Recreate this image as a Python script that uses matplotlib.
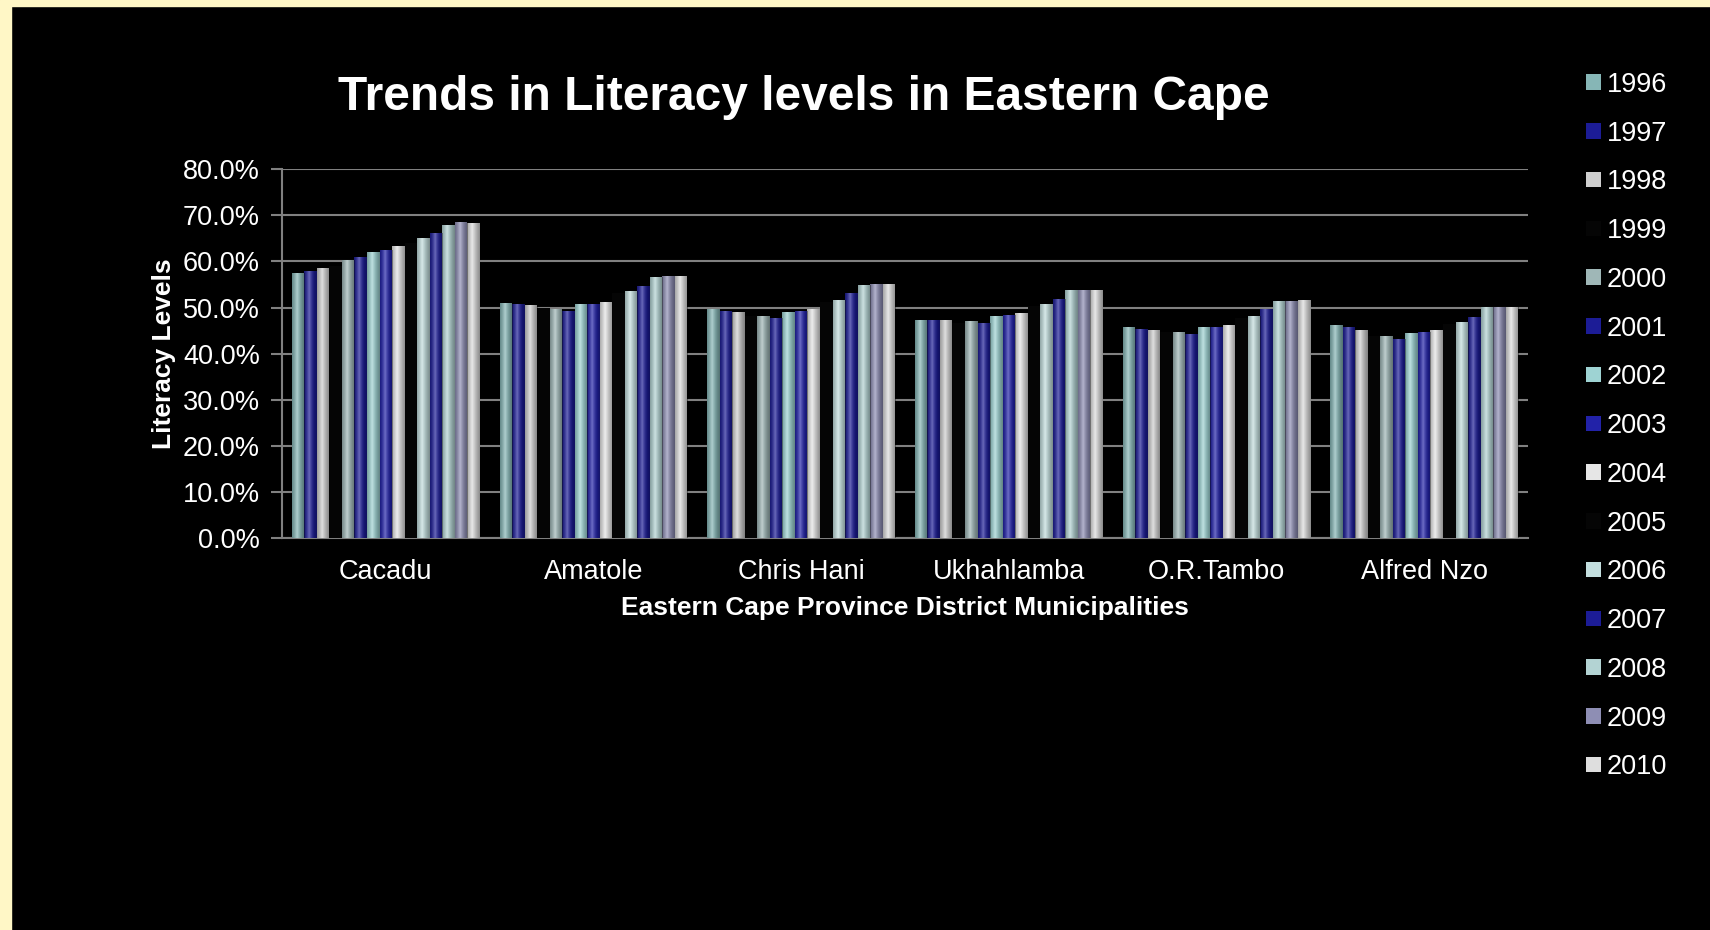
import matplotlib
matplotlib.use("Agg")
import matplotlib.pyplot as plt
import numpy as np
from matplotlib.patches import Rectangle, Patch
from matplotlib.ticker import FuncFormatter

plt.rcParams['font.family'] = ['Liberation Sans', 'DejaVu Sans']

# data (percent)
districts = ["Cacadu", "Amatole", "Chris Hani", "Ukhahlamba", "O.R.Tambo", "Alfred Nzo"]
years = ["1996", "1997", "1998", "1999", "2000", "2001", "2002", "2003",
         "2004", "2005", "2006", "2007", "2008", "2009", "2010"]

cacadu = [57.6, 58.0, 58.6, 59.1, 60.4, 60.9, 62.0, 62.5, 63.4, 64.1, 65.1, 66.2, 68.0, 68.5, 68.4]
amatole = [51.0, 50.8, 50.5, 49.8, 49.7, 49.3, 50.8, 50.8, 51.3, 53.1, 53.5, 54.6, 56.6, 56.8, 56.8]
chris_hani = [49.7, 49.3, 49.0, 48.1, 48.2, 47.8, 49.0, 49.3, 49.7, 51.2, 51.7, 53.1, 54.9, 55.1, 55.1]
ukhahlamba = [47.3, 47.3, 47.3, 46.7, 47.0, 46.7, 48.2, 48.3, 48.8, 50.2, 50.8, 51.8, 53.7, 53.7, 53.7]
or_tambo = [45.7, 45.4, 45.2, 44.6, 44.6, 44.3, 45.7, 45.7, 46.3, 47.8, 48.2, 49.6, 51.5, 51.5, 51.7]
alfred_nzo = [46.2, 45.7, 45.2, 43.9, 43.8, 43.2, 44.4, 44.6, 45.2, 46.5, 46.9, 48.0, 50.2, 50.2, 50.2]

colors = ["#86b6b6", "#1c1c96", "#cfcfcf", "#050505", "#9fb7b7", "#1c1c96",
          "#9ed3d3", "#2222a8", "#e6e6e6", "#050505", "#c3dede", "#1c1c96",
          "#b3d3d3", "#8e8eb4", "#dedede"]

values = np.array([cacadu, amatole, chris_hani, ukhahlamba, or_tambo, alfred_nzo])  # (district, year)

fig = plt.figure(figsize=(17.1, 9.3), dpi=100, facecolor="black")
# cream slide border
fig.patches.append(Rectangle((0, 0), 11 / 1710, 1, transform=fig.transFigure, color="#fff7c6", zorder=0))
fig.patches.append(Rectangle((0, 1 - 6 / 930), 1, 6 / 930, transform=fig.transFigure, color="#fff7c6", zorder=0))

ax = fig.add_axes([0.1649, 0.4215, 0.7287, 0.3965])
ax.set_facecolor("black")

n = len(years)
w = 0.905 / n
x = np.arange(len(districts))

# horizontal shading for a cylinder-ish look
grad = np.linspace(0, 1, 64)
shade = np.clip(1 - np.abs(grad - 0.4) * 2.2, 0, 1) ** 1.5
shade_img = np.zeros((1, 64, 4))
shade_img[..., :3] = 1
shade_img[..., 3] = shade * 0.35
dark_img = np.zeros((1, 64, 4))
dark_img[..., 3] = np.clip(np.abs(grad - 0.4) * 1.4, 0, 1) * 0.45

for j in range(n):
    xs = x - 0.905 / 2 + w * (j + 0.5)
    bars = ax.bar(xs, values[:, j], width=w, color=colors[j], zorder=3, linewidth=0, label=years[j])
    if colors[j] == "#050505":
        continue
    for b in bars:
        x0, h = b.get_x(), b.get_height()
        for img in (shade_img, dark_img):
            im = ax.imshow(img, extent=(x0, x0 + w, 0, h), aspect="auto", zorder=4, interpolation="bilinear")
            im.set_clip_path(b)

ax.set_xlim(-0.5, len(districts) - 0.5)
ax.set_ylim(0, 80)
ax.set_yticks(np.arange(0, 81, 10))
ax.yaxis.set_major_formatter(FuncFormatter(lambda v, p: f"{v:.1f}%"))
ax.grid(axis="y", color="#808080", linewidth=1.5, zorder=1)
ax.set_xticks(x)
ax.set_xticklabels(districts)
ax.tick_params(axis="x", length=0, colors="white", labelsize=19.5, pad=15)
ax.tick_params(axis="y", length=8, width=1.5, colors="#808080", labelcolor="white", labelsize=19.5, pad=8)
for s in ["top", "right"]:
    ax.spines[s].set_visible(False)
ax.spines["left"].set_color("#808080")
ax.spines["left"].set_linewidth(1.5)
ax.spines["bottom"].set_color("#808080")
ax.spines["bottom"].set_linewidth(1.5)

ax.set_ylabel("Literacy Levels", color="white", fontsize=19, fontweight="bold", labelpad=5)
ax.set_xlabel("Eastern Cape Province District Municipalities", color="white", fontsize=19,
              fontweight="bold", labelpad=8)
fig.text(0.47, 0.8955, "Trends in Literacy levels in Eastern Cape", color="white", fontsize=34.5,
         fontweight="bold", ha="center", va="center")

handles = [Patch(facecolor=c, edgecolor="none") for c in colors]
fig.legend(handles, years, loc="upper left", bbox_to_anchor=(0.9135, 0.949), frameon=False,
           fontsize=19.5, labelcolor="white", handlelength=0.55, handleheight=0.5,
           handletextpad=0.2, labelspacing=0.84)

fig.savefig("out.png", dpi=100, facecolor="black")
